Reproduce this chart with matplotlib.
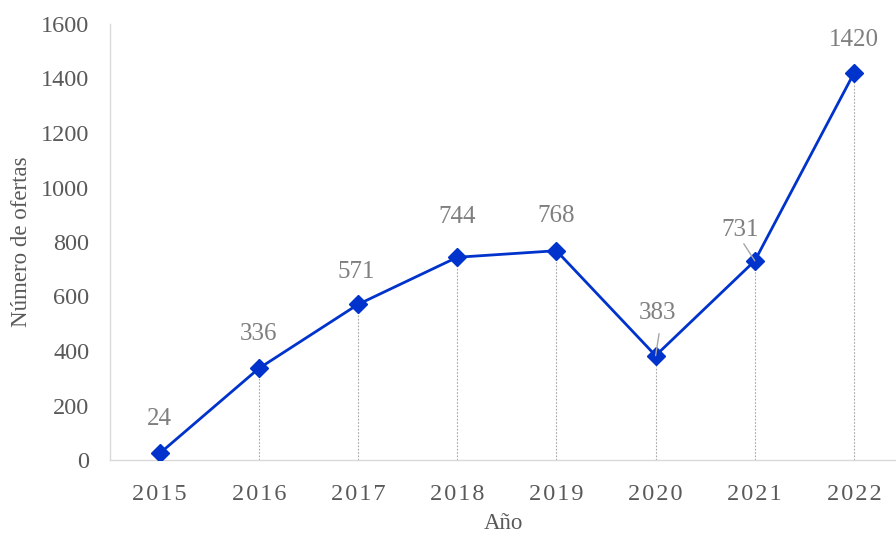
import matplotlib.pyplot as plt

years = ['2015', '2016', '2017', '2018', '2019', '2020', '2021', '2022']
offers = [24, 336, 571, 744, 768, 383, 731, 1420]

# desplazamiento de las etiquetas (px) respecto al marcador
label_dx = [0, 0, -2, 0, 0, 2, -15, 0]
label_dy = [34, 34, 32, 40, 35, 43, 31, 33]
leader = [False, False, False, False, False, True, True, False]

plt.rcParams['font.family'] = ['Liberation Serif', 'DejaVu Serif']
line_color = '#0033CC'
text_gray = '#595959'
label_gray = '#7F7F7F'

fig = plt.figure(figsize=(8.96, 5.36), dpi=100)
ax = fig.add_axes([110 / 896, 1 - 460 / 536, 1 - 110 / 896, (460 - 24) / 536])

x = list(range(len(years)))
ax.plot(x, offers, color=line_color, linewidth=2, marker='D', markersize=9,
        zorder=3)

# líneas de proyección
for xi, yi in zip(x, offers):
    ax.plot([xi, xi], [0, yi], color='#A6A6A6', linewidth=0.8,
            linestyle=(0, (1.5, 1.5)), zorder=2)

px = 72 / 100
for xi, yi, dx, dy, ld in zip(x, offers, label_dx, label_dy, leader):
    ax.annotate(str(yi), (xi, yi), xytext=(dx * px, dy * px),
                textcoords='offset points', ha='center', va='center',
                fontsize=18, color=label_gray, zorder=4)
    if ld:
        if abs(dx) < 5:
            p0 = (dx * px + 1.5 * px, (dy - 21) * px)
        else:
            p0 = (dx * px + 4 * px, (dy - 14) * px)
        ax.annotate('', (xi, yi), xytext=p0, textcoords='offset points',
                    arrowprops=dict(arrowstyle='-', color='#A6A6A6',
                                    linewidth=1, shrinkA=0, shrinkB=0),
                    xycoords=ax.transData)

ax.set_xlim(-0.5, 7 + 42 / 99.2)
ax.set_ylim(0, 1600)
ax.set_yticks(range(0, 1601, 200))
ax.set_xticks(x)
ax.set_xticklabels(['\u200a'.join(y) for y in years])
ax.tick_params(axis='both', length=0, labelsize=17.5, labelcolor=text_gray)
ax.tick_params(axis='x', pad=17)
ax.tick_params(axis='y', pad=15)

for side in ['top', 'right']:
    ax.spines[side].set_visible(False)
for side in ['left', 'bottom']:
    ax.spines[side].set_color('#D9D9D9')
    ax.spines[side].set_linewidth(1)

ax.set_xlabel('Año', fontsize=16.5, color=text_gray, labelpad=6)
ax.set_ylabel('Número de ofertas', fontsize=16.5, color=text_gray, labelpad=6)

fig.savefig('out.png', dpi=100)
